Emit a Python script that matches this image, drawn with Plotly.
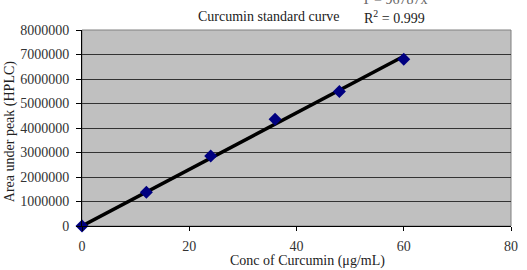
import numpy as np
import plotly.graph_objects as go

conc = [0, 12, 24, 36, 48, 60]
area = [0, 1380000, 2860000, 4360000, 5490000, 6810000]
x_ticks = [0, 20, 40, 60, 80]
y_ticks = [0, 1000000, 2000000, 3000000, 4000000, 5000000, 6000000, 7000000, 8000000]

title_text = "Curcumin standard curve"
eq_text = "Y = 96787x"
r2_text = "R<sup>2</sup> = 0.999"

# least-squares line through origin (trendline)
xa = np.array(conc, dtype=float)
ya = np.array(area, dtype=float)
slope = float((xa * ya).sum() / (xa * xa).sum())
line_x = [min(conc), max(conc)]
line_y = [slope * v for v in line_x]

FONT = "Liberation Serif"

fig = go.Figure()
fig.add_trace(go.Scatter(x=line_x, y=line_y, mode="lines",
                         line=dict(color="black", width=3.5), showlegend=False))
fig.add_trace(go.Scatter(x=conc, y=area, mode="markers",
                         marker=dict(symbol="diamond", size=10, color="#000080"),
                         showlegend=False, cliponaxis=False))

fig.update_layout(
    width=527, height=270,
    margin=dict(l=82, r=9, t=30, b=44),
    paper_bgcolor="white",
    plot_bgcolor="#c0c0c0",
    font=dict(family=FONT, size=14, color="#222"),
    xaxis=dict(range=[0, 80], tickvals=x_ticks, ticktext=[str(v) for v in x_ticks],
               showgrid=False, zeroline=False, showline=True, linecolor="black",
               linewidth=1, ticks="outside", ticklen=4, tickcolor="black",
               ticklabelstandoff=3,
               mirror=False, tickfont=dict(family=FONT, size=14, color="#333")),
    yaxis=dict(range=[0, 8000000], tickvals=y_ticks, ticktext=[str(v) for v in y_ticks],
               showgrid=True, gridcolor="#333", gridwidth=1, zeroline=False,
               showline=True, linecolor="black", linewidth=1, ticks="outside",
               ticklen=5, tickcolor="black", mirror=False, ticklabelstandoff=4,
               tickfont=dict(family=FONT, size=14, color="#333")),
    shapes=[dict(type="rect", xref="paper", yref="paper", x0=0, x1=1, y0=0, y1=1,
                 line=dict(color="#808080", width=1), layer="below")],
    annotations=[
        dict(text=title_text, xref="paper", yref="paper", x=272, y=17, showarrow=False,
             font=dict(family=FONT, size=14, color="#222")),
        dict(text=r2_text, xref="paper", yref="paper", x=400, y=17, showarrow=False,
             font=dict(family=FONT, size=14, color="#222")),
        dict(text=eq_text, xref="paper", yref="paper", x=400, y=0, showarrow=False,
             font=dict(family=FONT, size=14, color="#666")),
        dict(text="Conc of Curcumin (\u03bcg/mL)", xref="paper", yref="paper", x=311, y=261,
             showarrow=False, font=dict(family=FONT, size=14, color="#222")),
        dict(text="Area under peak (HPLC)", xref="paper", yref="paper", x=9, y=132,
             textangle=-90, showarrow=False, font=dict(family=FONT, size=14, color="#222")),
    ],
)

# convert pixel positions of annotations to paper coords
pw = 527 - 82 - 9
ph = 270 - 30 - 44
for a in fig.layout.annotations:
    px, py = a.x, a.y
    a.x = (px - 82) / pw
    a.y = (270 - 44 - py) / ph
    a.xanchor = "center"
    a.yanchor = "middle"

fig.write_html("out.html")
